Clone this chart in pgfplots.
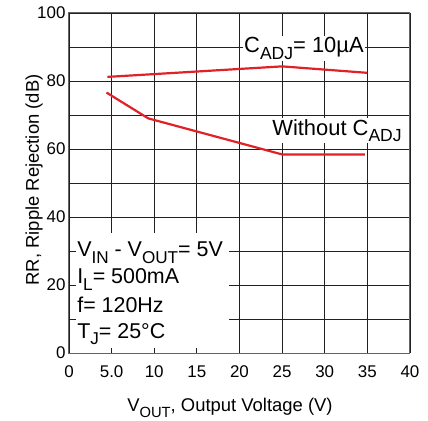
\documentclass[border=0pt]{standalone}
\usepackage{fontspec}
\setmainfont{Liberation Sans}
\usepackage{pgfplots}
\pgfplotsset{compat=1.18}

\definecolor{curve}{RGB}{224,34,38}
\definecolor{gridc}{RGB}{35,31,32}
\definecolor{framec}{RGB}{100,100,100}

% larger, lower subscripts as in the data sheet
\newcommand{\sub}[1]{\raisebox{-0.3em}{\scalebox{0.8}{#1}}}

\begin{document}
\begin{tikzpicture}
\begin{axis}[
    name=ax, at={(0,0)}, anchor=south west,
    width=341bp, height=340bp, scale only axis,
    xmin=0, xmax=40, ymin=0, ymax=100,
    xtick={0,5,...,40},
    xticklabels={0,5.0,10,15,20,25,30,35,40},
    ytick={0,10,...,100},
    yticklabels={0,,20,,40,,60,,80,,100},
    grid=major,
    major grid style={gridc, line width=0.9bp},
    axis line style={framec, line width=1bp},
    major tick length=0pt,
    tick label style={font=\fontsize{17}{17}\selectfont},
    xticklabel style={yshift=-9bp},
    label style={font=\fontsize{18.5}{20}\selectfont},
    xlabel={V\sub{OUT}, Output Voltage (V)},
    ylabel={RR, Ripple Rejection (dB)},
    xlabel style={at={(axis description cs:0.472,-0.172)}, anchor=base},
    ylabel style={at={(axis description cs:-0.088,0.509)}, anchor=base},
]
% C_ADJ = 10 uA
\addplot[curve, line width=2.2bp] coordinates {
    (4.5,81.2) (25,84.3) (35,82.4)
};
% without C_ADJ
\addplot[curve, line width=2.2bp] coordinates {
    (4.4,76.6) (9.3,69.0) (25,58.4) (34.7,58.4)
};

\fill[white] (axis cs:0.8,1.4) rectangle (axis cs:18.8,35.3);
\begin{scope}[font=\fontsize{21.5}{24}\selectfont, inner sep=0pt]
\node[anchor=base west] at (axis cs:0.95,28.3) {V\sub{IN} - V\sub{OUT}= 5V};
\node[anchor=base west] at (axis cs:0.95,20.3) {I\sub{L}= 500mA};
\node[anchor=base west] at (axis cs:0.95,12.0) {f= 120Hz};
\node[anchor=base west] at (axis cs:0.95,4.3) {T\sub{J}= 25°C};
\end{scope}

\begin{scope}[font=\fontsize{22}{24}\selectfont]
\node[anchor=base west, fill=white, inner sep=1.5bp] at (axis cs:20.35,88.3) {C\sub{ADJ}= 10µA};
\node[anchor=base west, fill=white, inner sep=1.5bp] at (axis cs:23.65,64.1) {Without C\sub{ADJ}};
\end{scope}
\end{axis}
\pgfresetboundingbox
\path (ax.south west) ++(-69bp,-68bp) rectangle ++(428bp,421bp);
\end{tikzpicture}
\end{document}
